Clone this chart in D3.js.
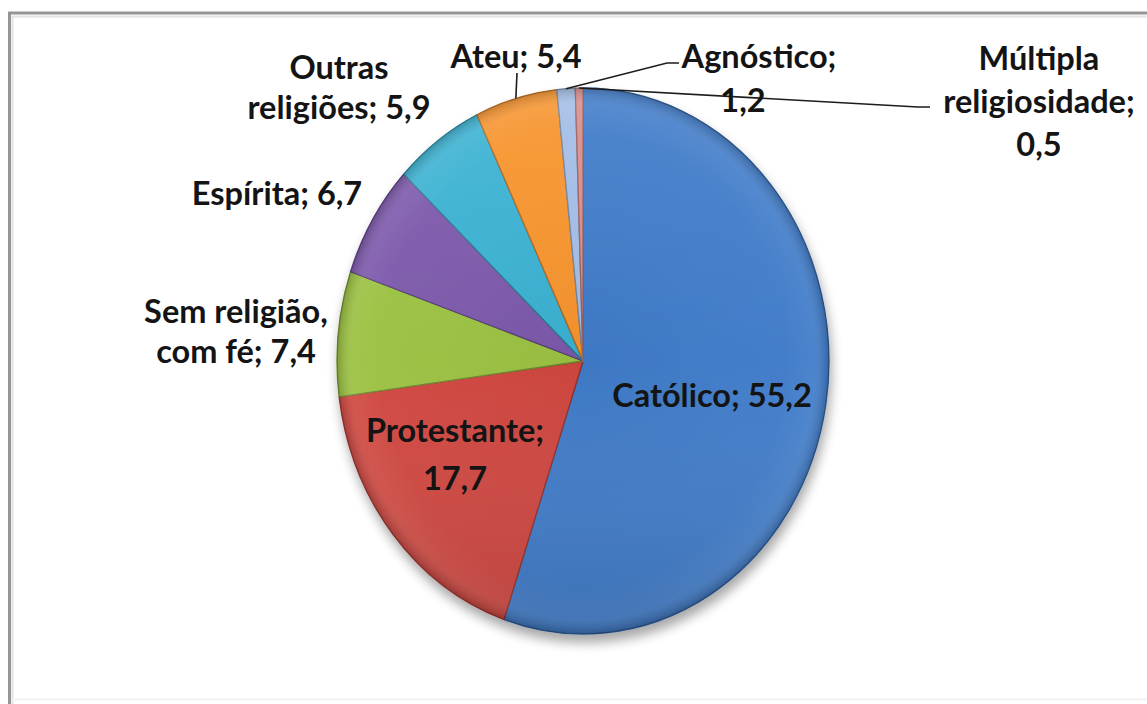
<!DOCTYPE html>
<html>
<head>
<meta charset="utf-8">
<script src="https://cdn.jsdelivr.net/npm/d3@7"></script>
<style>
  html, body { margin: 0; padding: 0; background: #ffffff; }
  svg { display: block; }
  .lbl { font-family: Lato, "Open Sans", sans-serif; font-weight: 700; fill: #141414; }
</style>
</head>
<body>
<svg id="chart" width="1147" height="704"></svg>
<script>
// Religious affiliation shares (%)
const categories = ["Católico", "Protestante", "Sem religião, com fé", "Espírita",
                    "Outras religiões", "Ateu", "Agnóstico", "Múltipla religiosidade"];
const values = [55.2, 17.7, 7.4, 6.7, 5.9, 5.4, 1.2, 0.5];
// Words per line of each data label
const labelBreaks = [[2], [1, 1], [2, 3], [2], [1, 2], [2], [1, 1], [1, 1, 1]];

const colors = ["#3f7bc9", "#d0463f", "#9bc142", "#7c58ab", "#3ab1d2", "#f7932c", "#a3bde6", "#da8c8a"];

// Label anchors: centre x, first baseline y, line height, per-line x shift; optional leader bend points
const labelLayout = {
  "Católico":               { x: 712,  y: 407, lh: 43 },
  "Protestante":            { x: 455,  y: 442, lh: 48 },
  "Sem religião, com fé":   { x: 236,  y: 323, lh: 40 },
  "Espírita":               { x: 277,  y: 205, lh: 40 },
  "Outras religiões":       { x: 339,  y: 79,  lh: 40 },
  "Ateu":                   { x: 516,  y: 68,  lh: 40, leader: [[517, 73]] },
  "Agnóstico":              { x: 759,  y: 68,  lh: 44, dx: [0, -16], leader: [[667, 63], [679, 63]] },
  "Múltipla religiosidade": { x: 1039, y: 70,  lh: 43, leader: [[918, 107], [930, 107]] }
};

const svg = d3.select("#chart");
const W = 1147, H = 704;

// Pie geometry (elliptical)
const cx = 583, cy = 361, rx = 246, ry = 273;

const defs = svg.append("defs");

const shadow = defs.append("filter").attr("id", "pieShadow")
  .attr("x", "-20%").attr("y", "-20%").attr("width", "140%").attr("height", "140%");
shadow.append("feGaussianBlur").attr("in", "SourceAlpha").attr("stdDeviation", 6).attr("result", "b");
shadow.append("feOffset").attr("in", "b").attr("dx", 2).attr("dy", 8).attr("result", "o");
shadow.append("feComponentTransfer").attr("in", "o").attr("result", "s")
  .append("feFuncA").attr("type", "linear").attr("slope", 0.35);
const merge = shadow.append("feMerge");
merge.append("feMergeNode").attr("in", "s");
merge.append("feMergeNode").attr("in", "SourceGraphic");

// Top-to-bottom light falloff
const lin = defs.append("linearGradient").attr("id", "light")
  .attr("x1", 0).attr("y1", 0).attr("x2", 0).attr("y2", 1);
lin.append("stop").attr("offset", "0%").attr("stop-color", "#ffffff").attr("stop-opacity", 0.06);
lin.append("stop").attr("offset", "50%").attr("stop-color", "#ffffff").attr("stop-opacity", 0.0);
lin.append("stop").attr("offset", "100%").attr("stop-color", "#000000").attr("stop-opacity", 0.12);

// Bevel around the rim
const rad = defs.append("radialGradient").attr("id", "bevel")
  .attr("cx", "50%").attr("cy", "50%").attr("r", "50%");
rad.append("stop").attr("offset", "0%").attr("stop-color", "#000000").attr("stop-opacity", 0.03);
rad.append("stop").attr("offset", "82%").attr("stop-color", "#ffffff").attr("stop-opacity", 0.02);
rad.append("stop").attr("offset", "94%").attr("stop-color", "#ffffff").attr("stop-opacity", 0.07);
rad.append("stop").attr("offset", "100%").attr("stop-color", "#000000").attr("stop-opacity", 0.2);

// Frame
svg.append("rect").attr("x", 0).attr("y", 0).attr("width", W).attr("height", H).attr("fill", "#ffffff");
svg.append("line").attr("x1", 12).attr("y1", 16.5).attr("x2", W).attr("y2", 16.5)
  .attr("stroke", "#e2e2e2").attr("stroke-width", 2);
svg.append("line").attr("x1", 12.5).attr("y1", 16).attr("x2", 12.5).attr("y2", H)
  .attr("stroke", "#e2e2e2").attr("stroke-width", 2);
svg.append("line").attr("x1", 8).attr("y1", 13).attr("x2", W).attr("y2", 13)
  .attr("stroke", "#959595").attr("stroke-width", 3);
svg.append("line").attr("x1", 9.5).attr("y1", 12).attr("x2", 9.5).attr("y2", H)
  .attr("stroke", "#959595").attr("stroke-width", 3);
svg.append("line").attr("x1", 12).attr("y1", 699.5).attr("x2", W).attr("y2", 699.5)
  .attr("stroke", "#f1f1f1").attr("stroke-width", 2);

const data = categories.map((c, i) => ({ name: c, value: values[i], color: colors[i], breaks: labelBreaks[i] }));

const pie = d3.pie().sort(null).value(d => d.value).startAngle(0).endAngle(2 * Math.PI);
const arcs = pie(data);
const arc = d3.arc().innerRadius(0).outerRadius(ry);

const pieG = svg.append("g").attr("filter", "url(#pieShadow)");
const g = pieG.append("g").attr("transform", `translate(${cx},${cy}) scale(${rx / ry},1)`);

g.selectAll("path.slice")
  .data(arcs)
  .join("path")
  .attr("class", "slice")
  .attr("d", arc)
  .attr("fill", d => d.data.color)
  .attr("stroke", d => d3.color(d.data.color).darker(1))
  .attr("stroke-width", 1.3)
  .attr("stroke-linejoin", "round")
  .attr("vector-effect", "non-scaling-stroke");

// Shading overlays across the whole disc
g.append("circle").attr("r", ry).attr("fill", "url(#bevel)");
g.append("circle").attr("r", ry).attr("fill", "url(#light)");

// Point on the rim at the middle of a slice
function rimPoint(d) {
  const a = (d.startAngle + d.endAngle) / 2;
  return [cx + rx * Math.sin(a), cy - ry * Math.cos(a)];
}

const fmt = v => d3.format(".1f")(v).replace(".", ",");

// Leader lines
arcs.forEach(d => {
  const L = labelLayout[d.data.name];
  if (!L.leader) return;
  const pts = [rimPoint(d), ...L.leader];
  svg.append("path")
    .attr("d", d3.line()(pts))
    .attr("fill", "none")
    .attr("stroke", "#1c1c1c")
    .attr("stroke-width", 1.6);
});

// Data labels
arcs.forEach(d => {
  const L = labelLayout[d.data.name];
  const words = `${d.data.name}; ${fmt(d.data.value)}`.split(" ");
  const lines = [];
  let k = 0;
  d.data.breaks.forEach(n => { lines.push(words.slice(k, k + n).join(" ")); k += n; });
  const t = svg.append("text")
    .attr("class", "lbl")
    .attr("text-anchor", "middle")
    .attr("font-size", 32.5);
  lines.forEach((ln, i) => {
    const shift = L.dx ? L.dx[i] : 0;
    t.append("tspan").attr("x", L.x + shift).attr("y", L.y + i * L.lh).text(ln);
  });
});
</script>
</body>
</html>
